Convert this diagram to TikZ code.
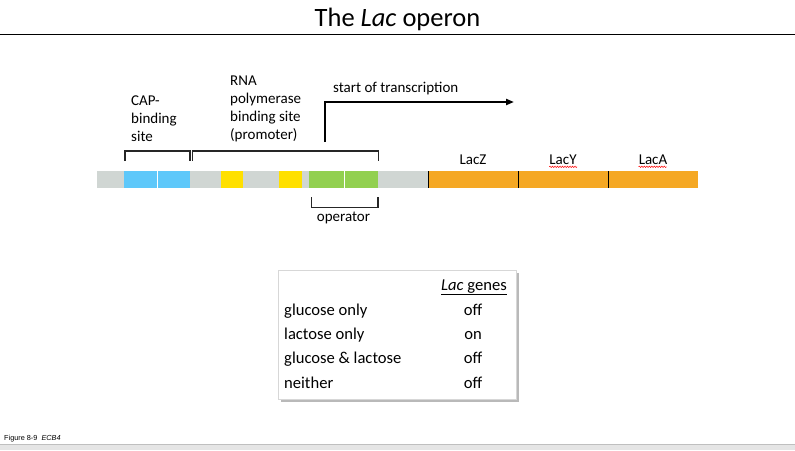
\documentclass[tikz,border=0pt]{standalone}
\usepackage{fontspec}
\setmainfont{Carlito}
\newfontfamily\footfont{Liberation Sans}
\usetikzlibrary{arrows.meta,decorations.pathmorphing}
\definecolor{dnagray}{RGB}{208,214,211}
\definecolor{capblue}{RGB}{94,200,250}
\definecolor{boxyellow}{RGB}{255,224,0}
\definecolor{opgreen}{RGB}{146,208,80}
\definecolor{geneorange}{RGB}{245,168,36}
\definecolor{framegray}{RGB}{215,215,215}
\definecolor{shadowgray}{RGB}{185,185,185}
\begin{document}
\begin{tikzpicture}[x=1pt,y=-1pt,
  lbl/.style={font=\fontsize{15}{18}\selectfont, inner sep=0pt, anchor=base west},
  tbl/.style={font=\fontsize{16.6}{19}\selectfont, inner sep=0pt, anchor=base west},
  tblval/.style={font=\fontsize{16.6}{19}\selectfont, inner sep=0pt, anchor=base},
  brk/.style={draw=black!85, line width=1.3pt},
  spell/.style={draw=red, line width=0.5pt, decorate, decoration={snake, amplitude=0.7pt, segment length=2.5pt}}]
\useasboundingbox (0,0) rectangle (795,450);
% title
\node[font=\fontsize{26.5}{30}\selectfont, inner sep=0pt, anchor=base] (title) at (397.5,26) {The \textit{Lac} operon};
\draw[line width=0.8pt] (0,34) -- (795,34);
% DNA bar
\fill[dnagray] (97,171) rectangle (428,188);
\fill[capblue] (124,171) rectangle (190,188);
\draw[white, line width=1pt] (157.5,171) -- (157.5,188);
\fill[boxyellow] (221,171) rectangle (243,188);
\fill[boxyellow] (279,171) rectangle (302,188);
\fill[opgreen] (309,171) rectangle (378,188);
\draw[white, line width=1pt] (344,171) -- (344,188);
\fill[geneorange] (428,171) rectangle (698,188);
\draw[line width=0.8pt] (428.5,171) -- (428.5,188);
\draw[line width=0.8pt] (518,171) -- (518,188);
\draw[line width=0.8pt] (608,171) -- (608,188);
% brackets
\draw[brk] (125,161) -- (125,151) -- (190,151) -- (190,161);
\draw[brk] (192.5,161) -- (192.5,151) -- (378.5,151) -- (378.5,161);
\draw[brk] (311.5,197) -- (311.5,207.5) -- (378,207.5) -- (378,197);
% transcription arrow
\coordinate (tss) at (325,142);
\coordinate (tssend) at (514,102);
\draw[line width=2pt, -{Triangle[length=8pt,width=6pt]}] (tss) |- (tssend);
% labels
\node[lbl] (cap1) at (131,105) {CAP-};
\node[lbl] (cap2) at (131,123) {binding};
\node[lbl] (cap3) at (131,141) {site};
\node[lbl] (rn1) at (230,85) {RNA};
\node[lbl] (rn2) at (230,103) {polymerase};
\node[lbl] (rn3) at (230,121) {binding site};
\node[lbl] (rn4) at (230,139) {(promoter)};
\node[lbl] (start) at (333,92) {start of transcription};
\node[lbl, anchor=base] (oper) at (343.5,221.5) {operator};
\node[lbl, anchor=base] (lacz) at (473,164) {LacZ};
\node[lbl, anchor=base] (lacy) at (563,164) {LacY};
\node[lbl, anchor=base] (laca) at (653,164) {LacA};
\draw[spell] (lacy.south west) ++(0,2.5) -- ++(28,0);
\draw[spell] (laca.south west) ++(0,2.5) -- ++(28,0);
% table
\fill[shadowgray] (281,273) rectangle (519,402);
\draw[framegray, fill=white, line width=0.8pt] (278,270) rectangle (516,399);
\node[tblval] (head) at (474,290) {\underline{\textit{Lac} genes}};
\node[tbl] (r1) at (284,315) {glucose only};
\node[tbl] (r2) at (284,339) {lactose only};
\node[tbl] (r3) at (284,363) {glucose \& lactose};
\node[tbl] (r4) at (284,388.5) {neither};
\node[tblval] (v1) at (473,315) {off};
\node[tblval] (v2) at (473,339) {on};
\node[tblval] (v3) at (473,363) {off};
\node[tblval] (v4) at (473,388.5) {off};
% footer
\node[font=\footfont\fontsize{7.3}{9}\selectfont, inner sep=0pt, anchor=base west] (fig) at (4,440) {Figure 8-9\ \ \textit{ECB4}};
\fill[black!10] (0,444.5) rectangle (795,450);
\draw[black!25, line width=0.8pt] (0,444.5) -- (795,444.5);
\end{tikzpicture}
\end{document}
